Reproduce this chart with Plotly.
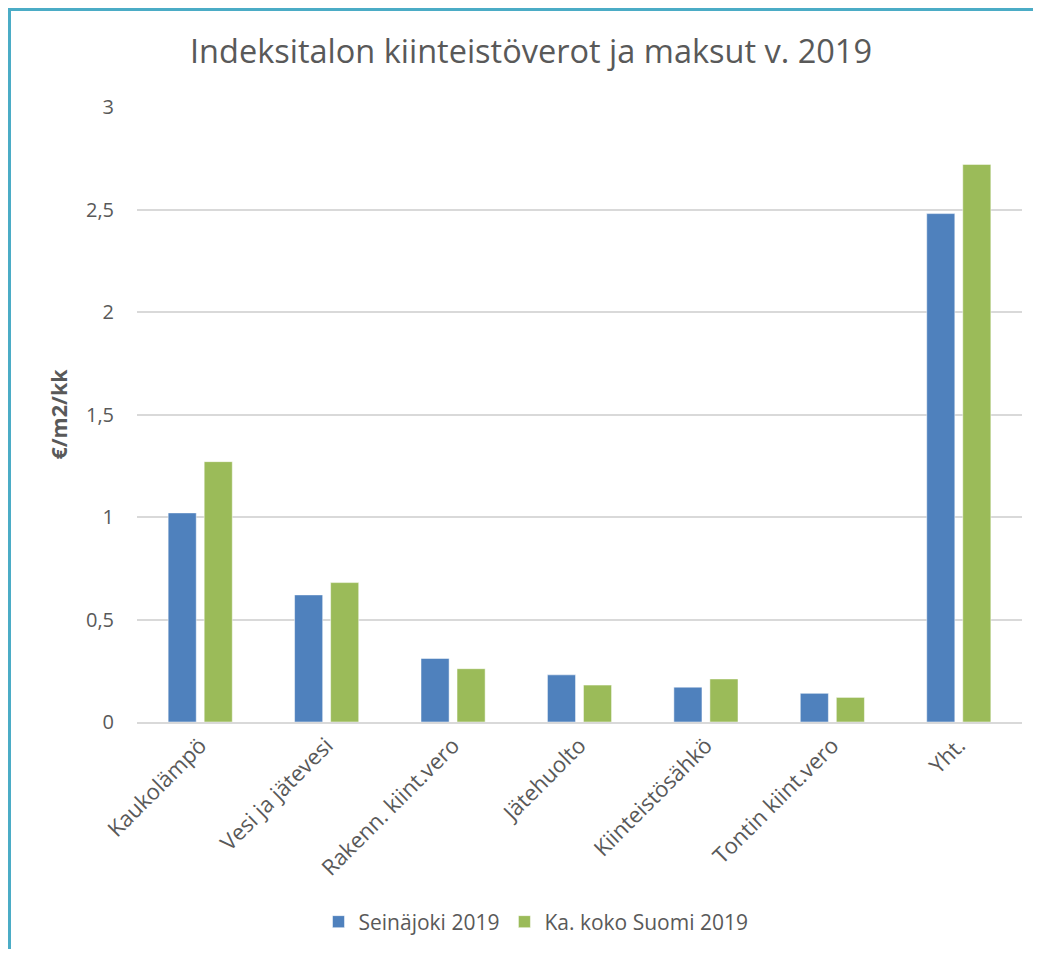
import plotly.graph_objects as go

categories = ["Kaukolämpö", "Vesi ja jätevesi", "Rakenn. kiint.vero", "Jätehuolto",
              "Kiinteistösähkö", "Tontin kiint.vero", "Yht."]
seinajoki = [1.02, 0.62, 0.31, 0.23, 0.17, 0.14, 2.48]
suomi = [1.27, 0.68, 0.26, 0.18, 0.21, 0.12, 2.72]
series_names = ["Seinäjoki 2019", "Ka. koko Suomi 2019"]
y_ticks = [0, 0.5, 1, 1.5, 2, 2.5, 3]

# page body has an 8px margin, so figure coordinates = reference pixels - 8
OFF = 8
W, H = 1033, 941
L, R, T, B = 129, 19, 99, 227
pw, ph = W - L - R, H - T - B

def px(x):
    return (x - OFF - L) / pw

def py(y):
    return (H - B - (y - OFF)) / ph

font = "'Open Sans', sans-serif"
grey = "#595959"

fig = go.Figure()
fig.add_trace(go.Bar(x=categories, y=seinajoki, name=series_names[0],
                     marker=dict(color="#4F81BD", line=dict(color="#ffffff", width=0.5))))
fig.add_trace(go.Bar(x=categories, y=suomi, name=series_names[1],
                     marker=dict(color="#9BBB59", line=dict(color="#ffffff", width=0.5))))

fig.update_layout(
    width=W, height=H,
    margin=dict(l=L, r=R, t=T, b=B, autoexpand=False),
    paper_bgcolor="white", plot_bgcolor="white",
    separators=", ",
    barmode="group", bargap=0.43, bargroupgap=0.22,
    font=dict(family=font, color=grey, size=18),
    title=dict(text="Indeksitalon kiinteistöverot ja maksut v. 2019",
               x=(531 - OFF) / W, xanchor="center", y=1 - (52 - OFF) / H, yanchor="middle",
               font=dict(family=font, size=32.5, color=grey)),
    xaxis=dict(tickangle=-45, showgrid=False, showline=True, linecolor="#D9D9D9",
               linewidth=2, ticks="", tickfont=dict(size=22, color=grey)),
    yaxis=dict(range=[0, 3], tickvals=y_ticks, showgrid=True, gridcolor="#D9D9D9",
               gridwidth=2, zeroline=False, showline=False, ticks="",
               ticklabelstandoff=22,
               tickfont=dict(size=20, color=grey),
               title=dict(text="<b>€/m2/kk</b>", font=dict(size=21.5, color=grey), standoff=12)),
    legend=dict(orientation="h", x=px(536), xanchor="center", y=py(922), yanchor="middle",
                font=dict(size=21, color=grey), itemwidth=30, traceorder="normal"),
    showlegend=True,
)

fig.add_shape(type="path", xref="paper", yref="paper",
              path=f"M {px(8.5)} {py(H + 30)} L {px(8.5)} {py(8.5)} L {px(W + 30)} {py(8.5)}",
              line=dict(color="#4BACC6", width=5), layer="above")

fig.write_html("out.html")
